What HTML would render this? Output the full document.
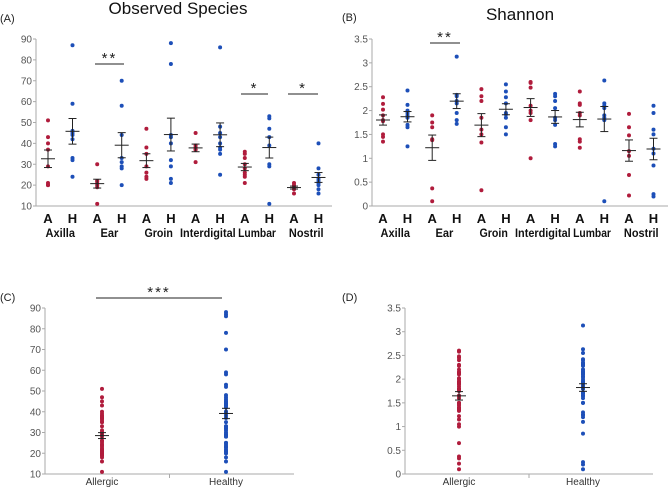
<!DOCTYPE html>
<html><head><meta charset="utf-8">
<style>
html,body{margin:0;padding:0;background:#fff;}
svg{display:block;font-family:"Liberation Sans",sans-serif;}
</style></head>
<body>
<svg id="fig" width="669" height="489" viewBox="0 0 669 489" xmlns="http://www.w3.org/2000/svg">
<text x="0" y="22" font-size="11" fill="#222">(A)</text>
<text x="178" y="14" font-size="17" text-anchor="middle" fill="#111">Observed Species</text>
<text x="342" y="21" font-size="11" fill="#222">(B)</text>
<text x="520" y="20" font-size="17" text-anchor="middle" fill="#111">Shannon</text>
<text x="0" y="301" font-size="11" fill="#222">(C)</text>
<text x="342" y="301" font-size="11" fill="#222">(D)</text>
</svg>
<script>
const regions = ["Axilla","Ear","Groin","Interdigital","Lumbar","Nostril"];
const obsAllergic = [
 [51,43,40,37,29,21,20,20],
 [30,22,22,21,20,19,11],
 [47,38,35,29,26,24,23],
 [45,39,38,37,37,31],
 [36,35,33,30,28,26,25,24,21],
 [21,20,19,19,18,16]];
const obsHealthy = [
 [87,59,46,45,44,42,33,32,24],
 [70,58,44,33,31,29,28,20],
 [88,78,44,43,40,32,29,23,21],
 [86,48,45,43,40,38,37,35,25],
 [53,52,47,43,39,30,29,11],
 [40,28,25,23,22,21,20,18,16]];
const shanAllergic = [
 [2.28,2.14,2.02,1.9,1.8,1.78,1.5,1.45,1.35],
 [1.9,1.75,1.65,1.4,1.38,0.37,0.1],
 [2.45,2.3,2.2,1.85,1.6,1.5,1.33,0.33],
 [2.6,2.58,2.48,2.1,2.0,1.95,1.8,1.0],
 [2.4,2.15,2.12,1.95,1.9,1.4,1.35,1.22],
 [1.93,1.65,1.48,1.15,1.05,0.65,0.22]];
const shanHealthy = [
 [2.42,2.12,2.0,1.95,1.9,1.85,1.7,1.65,1.25],
 [3.13,2.33,2.3,2.2,2.15,1.95,1.8,1.72],
 [2.55,2.4,2.28,2.15,1.95,1.92,1.85,1.65,1.5],
 [2.35,2.3,2.2,2.05,1.85,1.8,1.7,1.3,1.25],
 [2.63,2.15,2.1,2.05,1.9,1.85,1.8,0.1],
 [2.1,1.95,1.6,1.5,1.2,1.1,0.85,0.25,0.2]];
const obsTicks = [10,20,30,40,50,60,70,80,90];
const shanTicks = [0,0.5,1,1.5,2,2.5,3,3.5];
const shanTickLabels = ["0","0.5","1","1.5","2","2.5","3","3.5"];
const groups = ["Allergic","Healthy"];

const NS="http://www.w3.org/2000/svg";
const svg=document.getElementById('fig');
const RED="#b01c3c", BLUE="#1d4fb8";
function mk(tag,attrs,parent){const e=document.createElementNS(NS,tag);for(const k in attrs)e.setAttribute(k,attrs[k]);(parent||svg).appendChild(e);return e;}
function stats(a){const m=a.reduce((s,v)=>s+v,0)/a.length;const sd=Math.sqrt(a.reduce((s,v)=>s+(v-m)*(v-m),0)/(a.length-1));return [m,sd/Math.sqrt(a.length)];}

function axis(x0,x1,yTop,yBot,vmin,vmax,ticks,labels,name){
  const g=mk('g',{});
  
  
  const y=v=>yBot-(v-vmin)/(vmax-vmin)*(yBot-yTop);
  mk('line',{x1:x0,y1:yTop,x2:x0,y2:yBot,stroke:'#aaa','stroke-width':1},g);
  mk('line',{x1:x0,y1:yBot,x2:x1,y2:yBot,stroke:'#aaa','stroke-width':1},g);
  ticks.forEach((t,i)=>{
    mk('line',{x1:x0-3,y1:y(t),x2:x0,y2:y(t),stroke:'#aaa'},g);
    const tx=mk('text',{x:x0-4,y:y(t)+3.5,'font-size':10,'text-anchor':'end',fill:'#555'},g);
    tx.textContent=labels?labels[i]:t;
  });
  return y;
}
function dots(x,vals,y,color,name){
  vals.forEach(v=>{
    const c=mk('circle',{cx:x,cy:y(v),r:2,fill:color});
    
    
  });
  const [m,se]=stats(vals);
  const g=mk('g',{stroke:'#222','stroke-width':1});
  
  
  mk('line',{x1:x,y1:y(m+se),x2:x,y2:y(m-se)},g);
  mk('line',{x1:x-4,y1:y(m+se),x2:x+4,y2:y(m+se)},g);
  mk('line',{x1:x-4,y1:y(m-se),x2:x+4,y2:y(m-se)},g);
  mk('line',{x1:x-7,y1:y(m),x2:x+7,y2:y(m)},g);
}
function sig(x1,x2,yl,stars){
  const l=mk('line',{x1:x1,y1:yl,x2:x2,y2:yl,stroke:'#222','stroke-width':1});
  
  
  const t=mk('text',{x:(x1+x2)/2,y:yl-1,'font-size':15,'text-anchor':'middle',fill:'#222','letter-spacing':'2'});
  
  
  t.textContent=stars;
}
const regionWidths = {Axilla:28,Ear:17,Groin:27,Interdigital:53,Lumbar:36,Nostril:33};
function regionPanel(x0,x1,firstX,step,A,H,vmin,vmax,ticks,labels,name){
  const y=axis(x0,x1,39,206,vmin,vmax,ticks,labels,name+'-axes');
  regions.forEach((r,i)=>{
    const xa=firstX+i*step, xh=xa+24.5;
    dots(xa,A[i],y,RED,name+'-allergic-'+r.toLowerCase());
    dots(xh,H[i],y,BLUE,name+'-healthy-'+r.toLowerCase());
    let t=mk('text',{x:xa,y:223,'font-size':13,'font-weight':'bold','text-anchor':'middle',fill:'#111'});
    t.textContent='A';
    t=mk('text',{x:xh,y:223,'font-size':13,'font-weight':'bold','text-anchor':'middle',fill:'#111'});
    t.textContent='H';
    t=mk('text',{x:(xa+xh)/2,y:237,'font-size':12,'font-weight':'bold','text-anchor':'middle',fill:'#111',textLength:regionWidths[r]*1.05,lengthAdjust:'spacingAndGlyphs'});
    t.textContent=r;
  });
  return y;
}
regionPanel(36,332,48,49.2,obsAllergic,obsHealthy,10,90,obsTicks,null,'observed');
regionPanel(372,668,383,49.2,shanAllergic,shanHealthy,0,3.5,shanTicks,shanTickLabels,'shannon');
sig(95,124,64,'**');
sig(241,268,94,'*');
sig(288,318,94,'*');
sig(430,460,43,'**');

function overall(x0,x1,xa,xh,A,H,vmin,vmax,ticks,labels,name){
  const y=axis(x0,x1,308,474,vmin,vmax,ticks,labels,name+'-axes');
  mk('line',{x1:(x0+x1)/2,y1:474,x2:(x0+x1)/2,y2:478,stroke:'#aaa'});
  dots(xa,A.flat(),y,RED,name+'-allergic');
  dots(xh,H.flat(),y,BLUE,name+'-healthy');
  [xa,xh].forEach((x,i)=>{
    const t=mk('text',{x:x,y:485,'font-size':10,'text-anchor':'middle',fill:'#333'});
    
    
    t.textContent=groups[i];
  });
}
overall(45,294,102,226,obsAllergic,obsHealthy,10,90,obsTicks,null,'overall-observed');
overall(405,653,459,583,shanAllergic,shanHealthy,0,3.5,shanTicks,shanTickLabels,'overall-shannon');
sig(96,222,298,'***');
</script>
</body></html>
